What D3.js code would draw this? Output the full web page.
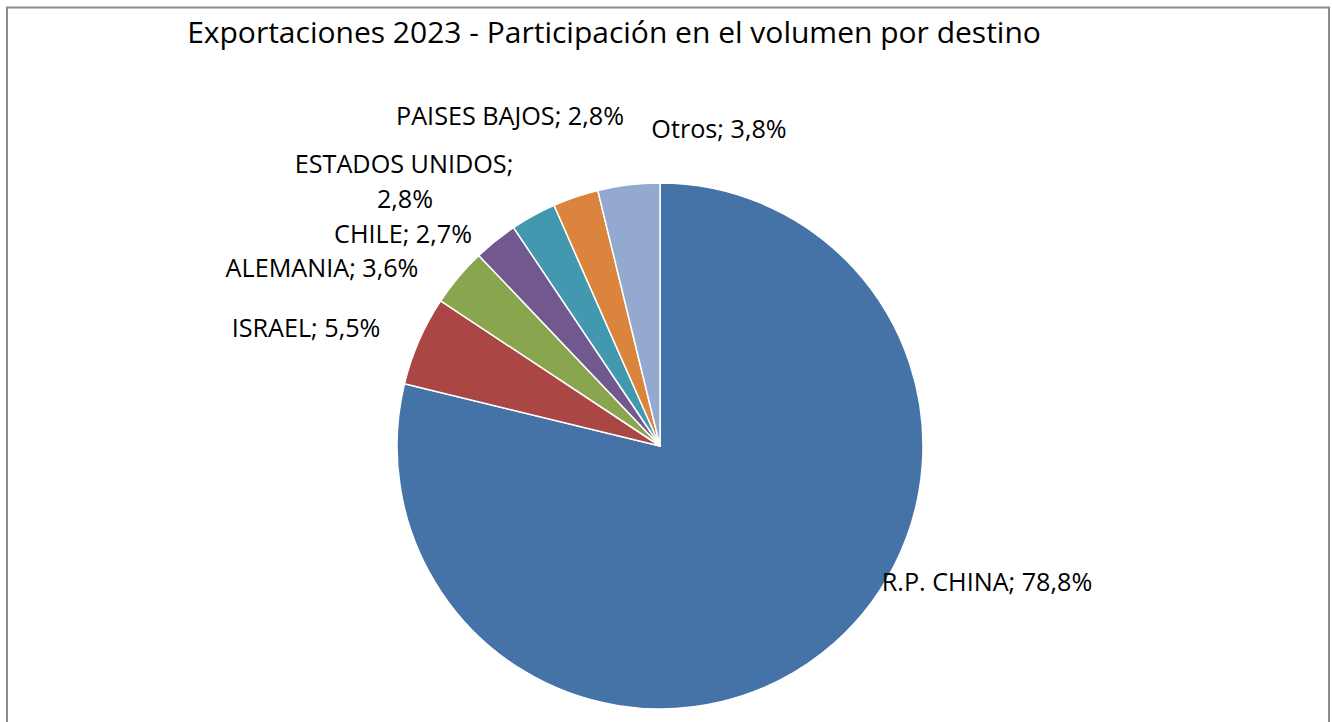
<!DOCTYPE html>
<html>
<head>
<meta charset="utf-8">
<script src="https://cdn.jsdelivr.net/npm/d3@7"></script>
<style>
  html, body { margin: 0; padding: 0; background: #fff; }
  svg { display: block; }
  text { font-family: "Open Sans", "Noto Sans", sans-serif; fill: #000; }
</style>
</head>
<body>
<svg id="pie"></svg>
<script>
// data
const destinos = ["R.P. CHINA", "ISRAEL", "ALEMANIA", "CHILE", "ESTADOS UNIDOS", "PAISES BAJOS", "Otros"];
const participacion = [78.8, 5.5, 3.6, 2.7, 2.8, 2.8, 3.8];
const colores = ["#4572a7", "#aa4643", "#89a54e", "#71588f", "#4198af", "#db843d", "#93a9cf"];
const titulo = "Exportaciones 2023 - Participación en el volumen por destino";

const width = 1332, height = 722;
const cx = 660, cy = 446, radius = 263;

// label placement (offsets from pie centre, text anchored at middle/baseline)
const labelPos = {
    "R.P. CHINA":     [[327, 145]],
    "ISRAEL":         [[-354, -109]],
    "ALEMANIA":       [[-338, -169]],
    "CHILE":          [[-257, -203]],
    "ESTADOS UNIDOS": [[-256, -273], [-255, -238]],
    "PAISES BAJOS":   [[-150, -321]],
    "Otros":          [[59, -308]]
};

let svg = d3.select("#pie")
    .attr("width", width)
    .attr("height", height);

// chart frame (bottom edge runs off the page)
svg.append("rect")
    .attr("x", 7)
    .attr("y", 7.5)
    .attr("width", 1322)
    .attr("height", 740)
    .attr("fill", "none")
    .attr("stroke", "#8c8c8c")
    .attr("stroke-width", 2);

// title, sized to fit the original width
let title = svg.append("text")
    .attr("x", 614)
    .attr("y", 43)
    .style("text-anchor", "middle")
    .style("font-size", "28px")
    .text(titulo);
let tw = title.node().getComputedTextLength();
title.style("font-size", (28 * 854 / tw) + "px");

let data = destinos.map((d, i) => ({ name: d, value: participacion[i], color: colores[i] }));

let pie = d3.pie()
    .sort(null)
    .value(d => d.value);

let arc = d3.arc()
    .innerRadius(0)
    .outerRadius(radius);

let g = svg.append("g")
    .attr("transform", `translate(${cx},${cy})`);

g.selectAll("path")
    .data(pie(data))
    .enter()
    .append("path")
        .attr("d", arc)
        .attr("fill", d => d.data.color)
        .attr("stroke", "#fff")
        .attr("stroke-width", 1.5)
        .attr("stroke-linejoin", "round");

// data labels
const fmt = v => d3.format(".1f")(v).replace(".", ",") + "%";

// find a label font size so "PAISES BAJOS; 2,8%" is about 228px wide
let probe = svg.append("text").style("font-size", "24px").text("PAISES BAJOS; 2,8%");
let labelSize = 24 * 228 / probe.node().getComputedTextLength();
probe.remove();

data.forEach(d => {
    let pos = labelPos[d.name];
    let lines = pos.length > 1 ? [d.name + ";", fmt(d.value)] : [d.name + "; " + fmt(d.value)];
    lines.forEach((line, i) => {
        g.append("text")
            .attr("x", pos[i][0])
            .attr("y", pos[i][1])
            .style("text-anchor", "middle")
            .style("font-size", labelSize + "px")
            .text(line);
    });
});
</script>
</body>
</html>
